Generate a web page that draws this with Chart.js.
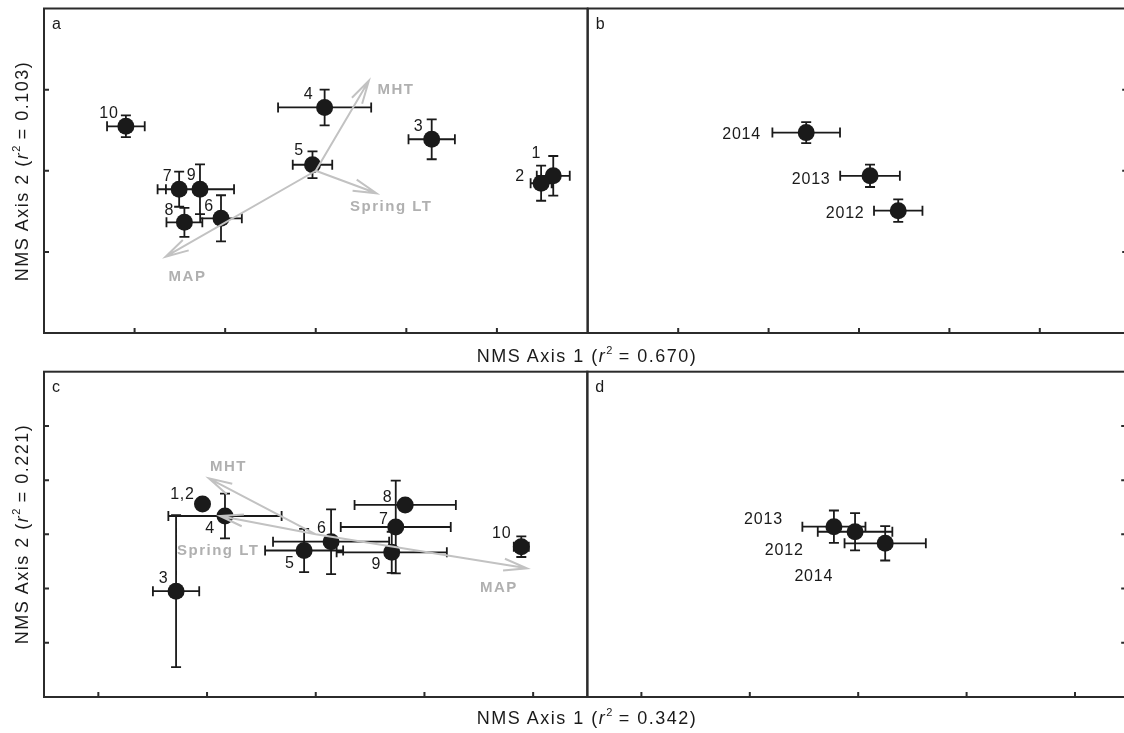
<!DOCTYPE html>
<html>
<head>
<meta charset="utf-8">
<script src="https://cdn.jsdelivr.net/npm/chart.js@4.4.0/dist/chart.umd.min.js"></script>
<style>
    html, body { margin: 0; padding: 0; background: #fff; overflow: hidden; }
    #wrap { position: relative; width: 1124px; height: 733px; overflow: hidden; }
    #wrap canvas { position: absolute; left: 0; top: 0; }
    .axis-title {
        position: absolute;
        font-family: 'Liberation Sans', Arial, sans-serif;
        font-size: 18px;
        letter-spacing: 1.5px;
        color: #1a1a1a;
        white-space: nowrap;
        transform: translate(-50%, -50%);
    }
    .axis-title.vertical { transform: translate(-50%, -50%) rotate(-90deg); }
    .axis-title sup { font-size: 11px; vertical-align: 8px; line-height: 0; letter-spacing: 0; }
</style>
</head>
<body>
<div id="wrap">
    <canvas id="panelA" width="1124" height="733"></canvas>
    <canvas id="panelB" width="1124" height="733"></canvas>
    <canvas id="panelC" width="1124" height="733"></canvas>
    <canvas id="panelD" width="1124" height="733"></canvas>
    <div class="axis-title" style="left:587px; top:356px">NMS Axis 1 (<i>r</i><sup>2</sup> = 0.670)</div>
    <div class="axis-title" style="left:587px; top:718px">NMS Axis 1 (<i>r</i><sup>2</sup> = 0.342)</div>
    <div class="axis-title vertical" style="left:22px; top:171px">NMS Axis 2 (<i>r</i><sup>2</sup> = 0.103)</div>
    <div class="axis-title vertical" style="left:22px; top:534px">NMS Axis 2 (<i>r</i><sup>2</sup> = 0.221)</div>
</div>
<script>
// ---- panel a : sites (top ordination) ----
const siteLabelsA = ['1', '2', '3', '4', '5', '6', '7', '8', '9', '10'];
const siteAxis1A = [1.311, 1.244, 0.640, 0.049, -0.018, -0.523, -0.754, -0.725, -0.639, -1.048];
const siteAxis2A = [-0.031, -0.077, 0.194, 0.390, 0.037, -0.293, -0.114, -0.318, -0.114, 0.274];
const siteErr1A = [0.091, 0.058, 0.128, 0.257, 0.109, 0.115, 0.119, 0.099, 0.188, 0.104];
const siteErr2A = [0.122, 0.108, 0.123, 0.110, 0.083, 0.142, 0.108, 0.089, 0.153, 0.067];

// ---- panel b : years (top ordination) ----
const yearLabels = ['2012', '2013', '2014'];
const yearAxis1B = [0.217, 0.061, -0.292];
const yearAxis2B = [-0.246, -0.031, 0.235];
const yearErr1B = [0.134, 0.165, 0.187];
const yearErr2B = [0.069, 0.069, 0.065];

// ---- panel c : sites (bottom ordination) ----
const siteLabelsC = ['1,2', '3', '4', '5', '6', '7', '8', '9', '10'];
const siteAxis1C = [-1.042, -1.285, -0.835, -0.107, 0.141, 0.736, 0.823, 0.699, 1.891];
const siteAxis2C = [0.280, -0.524, 0.169, -0.149, -0.068, 0.068, 0.271, -0.166, -0.114];
const siteErr1C = [0.04, 0.213, 0.521, 0.359, 0.534, 0.506, 0.466, 0.507, 0.069];
const siteErr2C = [0.04, 0.701, 0.206, 0.200, 0.298, 0.427, 0.03, 0.190, 0.095];

// ---- panel d : years (bottom ordination) ----
const yearAxis1D = [-0.029, -0.224, 0.249];
const yearAxis2D = [0.024, 0.071, -0.083];
const yearErr1D = [0.344, 0.291, 0.375];
const yearErr2D = [0.172, 0.149, 0.158];

// ---- environmental vectors ----
const vectorLabels = ['MHT', 'Spring LT', 'MAP'];
const vectorAxis1A = [0.293, 0.335, -0.829];
const vectorAxis2A = [0.555, -0.139, -0.530];
const vectorAxis1C = [-0.983, -0.881, 1.943];
const vectorAxis2C = [0.517, 0.169, -0.313];

// ---- tick values ----
const xTicksTop = [-1, -0.5, 0, 0.5, 1];
const yTicksTop = [-0.5, 0, 0.5];
const xTicksBottom = [-2, -1, 0, 1, 2];
const yTicksBottom = [-1, -0.5, 0, 0.5, 1];

document.addEventListener('DOMContentLoaded', function () {
    const FONT = "'Liberation Sans', Arial, sans-serif";
    const INK = '#1a1a1a';
    const VECTOR_GREY = '#c2c2c2';
    const VECTOR_TEXT = '#b0b0b0';
    const PAGE_W = 1124, PAGE_H = 733;

    // label offsets in px from the marker (text centre / right edge)
    const siteOffsetsA = [[-17, -22], [-21, -7], [-13, -13], [-16, -13], [-13.5, -14], [-12, -12], [-11.5, -13], [-15, -12], [-8.3, -14], [-17, -13]];
    const siteOffsetsC = [[-20, -9], [-12.4, -13], [-15, 13], [-14.3, 13.5], [-9.3, -12.7], [-11.8, -7.7], [-17.5, -7.7], [-15.3, 12.7], [-19.6, -13.4]];
    const yearOffsetsB = [[-33.7, 3.3], [-39.5, 4.3], [-45.2, 2.3]];
    const yearOffsetsD = [[-51.4, 19], [-51, -6.7], [-52, 33.4]];
    const vectorOffsetsA = [[8.7, 9.3], [-26.4, 14], [3, 20.6]];
    const vectorOffsetsC = [[1, -11.6], [-43, 34.7], [-47, 19.4]];

    function toPoints(xs, ys, ex, ey) {
        return xs.map((x, i) => ({ x: x, y: ys[i], ex: ex[i], ey: ey[i] }));
    }

    function drawArrow(ctx, x0, y0, x1, y1) {
        const ang = Math.atan2(y1 - y0, x1 - x0);
        const head = 24, spread = 0.25;
        ctx.moveTo(x0, y0);
        ctx.lineTo(x1, y1);
        ctx.moveTo(x1 - head * Math.cos(ang - spread), y1 - head * Math.sin(ang - spread));
        ctx.lineTo(x1, y1);
        ctx.lineTo(x1 - head * Math.cos(ang + spread), y1 - head * Math.sin(ang + spread));
    }

    function makePlugin(cfg) {
        return {
            id: 'ordination',
            beforeDatasetsDraw(chart) {
                const ctx = chart.ctx;
                const xs = chart.scales.x, ys = chart.scales.y;
                ctx.save();
                ctx.strokeStyle = INK;
                ctx.lineWidth = 1.8;
                ctx.beginPath();
                cfg.points.forEach(p => {
                    const cx = xs.getPixelForValue(p.x), cy = ys.getPixelForValue(p.y);
                    const x0 = xs.getPixelForValue(p.x - p.ex), x1 = xs.getPixelForValue(p.x + p.ex);
                    const y0 = ys.getPixelForValue(p.y - p.ey), y1 = ys.getPixelForValue(p.y + p.ey);
                    ctx.moveTo(x0, cy); ctx.lineTo(x1, cy);
                    ctx.moveTo(x0, cy - 5); ctx.lineTo(x0, cy + 5);
                    ctx.moveTo(x1, cy - 5); ctx.lineTo(x1, cy + 5);
                    ctx.moveTo(cx, y0); ctx.lineTo(cx, y1);
                    ctx.moveTo(cx - 5, y0); ctx.lineTo(cx + 5, y0);
                    ctx.moveTo(cx - 5, y1); ctx.lineTo(cx + 5, y1);
                });
                ctx.stroke();
                ctx.restore();
            },
            afterDatasetsDraw(chart) {
                const ctx = chart.ctx;
                const xs = chart.scales.x, ys = chart.scales.y;
                const area = chart.chartArea;
                ctx.save();

                // biplot vectors
                if (cfg.vectors) {
                    const ox = xs.getPixelForValue(0), oy = ys.getPixelForValue(0);
                    ctx.strokeStyle = VECTOR_GREY;
                    ctx.lineWidth = 2;
                    ctx.beginPath();
                    cfg.vectors.x.forEach((vx, i) => {
                        drawArrow(ctx, ox, oy, xs.getPixelForValue(vx), ys.getPixelForValue(cfg.vectors.y[i]));
                    });
                    ctx.stroke();
                    ctx.fillStyle = VECTOR_TEXT;
                    ctx.font = 'bold 15px ' + FONT;
                    ctx.letterSpacing = '1.5px';
                    ctx.textAlign = 'left';
                    ctx.textBaseline = 'middle';
                    vectorLabels.forEach((lbl, i) => {
                        const off = cfg.vectors.offsets[i];
                        ctx.fillText(lbl, xs.getPixelForValue(cfg.vectors.x[i]) + off[0], ys.getPixelForValue(cfg.vectors.y[i]) + off[1]);
                    });
                }

                // point labels
                ctx.fillStyle = INK;
                ctx.font = '16px ' + FONT;
                ctx.letterSpacing = '0.8px';
                ctx.textAlign = cfg.labelAlign;
                ctx.textBaseline = 'middle';
                cfg.points.forEach((p, i) => {
                    const off = cfg.labelOffsets[i];
                    ctx.fillText(cfg.labels[i], xs.getPixelForValue(p.x) + off[0], ys.getPixelForValue(p.y) + off[1]);
                });

                // panel letter
                ctx.letterSpacing = '0px';
                ctx.textAlign = 'left';
                ctx.textBaseline = 'alphabetic';
                ctx.fillText(cfg.letter, area.left + 8, area.top + 20);

                // frame (right-hand panels run past the page edge)
                const frameRight = xs.getPixelForValue(cfg.xFrameMax);
                ctx.strokeStyle = '#2b2b2b';
                ctx.lineWidth = 2;
                ctx.strokeRect(area.left, area.top, frameRight - area.left, area.bottom - area.top);

                // inward ticks
                ctx.beginPath();
                cfg.xTicks.forEach(t => {
                    const px = xs.getPixelForValue(t);
                    ctx.moveTo(px, area.bottom);
                    ctx.lineTo(px, area.bottom - 5);
                });
                cfg.yTicks.forEach(t => {
                    const py = ys.getPixelForValue(t);
                    if (cfg.yTickSide === 'left') {
                        ctx.moveTo(area.left, py);
                        ctx.lineTo(area.left + 5, py);
                    } else {
                        ctx.moveTo(frameRight, py);
                        ctx.lineTo(frameRight - 8, py);
                    }
                });
                ctx.stroke();
                ctx.restore();
            }
        };
    }

    function createPanel(canvasId, cfg) {
        const right = Math.min(cfg.frame.right, PAGE_W);
        // visible part of the axis when the panel is cut by the page edge
        const xMaxVisible = cfg.xMin + (cfg.xFrameMax - cfg.xMin) * (right - cfg.frame.left) / (cfg.frame.right - cfg.frame.left);
        return new Chart(document.getElementById(canvasId), {
            type: 'scatter',
            data: {
                datasets: [{
                    data: cfg.points,
                    pointRadius: 8.5,
                    pointHoverRadius: 8.5,
                    backgroundColor: INK,
                    borderWidth: 0
                }]
            },
            options: {
                responsive: false,
                animation: false,
                events: [],
                layout: {
                    autoPadding: false,
                    padding: {
                        left: cfg.frame.left,
                        top: cfg.frame.top,
                        right: PAGE_W - right,
                        bottom: PAGE_H - cfg.frame.bottom
                    }
                },
                scales: {
                    x: { type: 'linear', display: false, min: cfg.xMin, max: xMaxVisible },
                    y: { type: 'linear', display: false, min: cfg.yMin, max: cfg.yMax }
                },
                plugins: {
                    legend: { display: false },
                    tooltip: { enabled: false }
                }
            },
            plugins: [makePlugin(cfg)]
        });
    }

    createPanel('panelA', {
        letter: 'a',
        frame: { left: 44, top: 8.5, right: 587.5, bottom: 333 },
        xMin: -1.5, xFrameMax: 1.5, yMin: -1, yMax: 1,
        points: toPoints(siteAxis1A, siteAxis2A, siteErr1A, siteErr2A),
        labels: siteLabelsA, labelOffsets: siteOffsetsA, labelAlign: 'center',
        vectors: { x: vectorAxis1A, y: vectorAxis2A, offsets: vectorOffsetsA },
        xTicks: xTicksTop, yTicks: yTicksTop, yTickSide: 'left'
    });

    createPanel('panelB', {
        letter: 'b',
        frame: { left: 587.8, top: 8.5, right: 1130.2, bottom: 333 },
        xMin: -1.5, xFrameMax: 1.5, yMin: -1, yMax: 1,
        points: toPoints(yearAxis1B, yearAxis2B, yearErr1B, yearErr2B),
        labels: yearLabels, labelOffsets: yearOffsetsB, labelAlign: 'right',
        xTicks: xTicksTop, yTicks: yTicksTop, yTickSide: 'right'
    });

    createPanel('panelC', {
        letter: 'c',
        frame: { left: 44, top: 371.7, right: 587.5, bottom: 697 },
        xMin: -2.5, xFrameMax: 2.5, yMin: -1.5, yMax: 1.5,
        points: toPoints(siteAxis1C, siteAxis2C, siteErr1C, siteErr2C),
        labels: siteLabelsC, labelOffsets: siteOffsetsC, labelAlign: 'center',
        vectors: { x: vectorAxis1C, y: vectorAxis2C, offsets: vectorOffsetsC },
        xTicks: xTicksBottom, yTicks: yTicksBottom, yTickSide: 'left'
    });

    createPanel('panelD', {
        letter: 'd',
        frame: { left: 587.2, top: 371.7, right: 1129.2, bottom: 697 },
        xMin: -2.5, xFrameMax: 2.5, yMin: -1.5, yMax: 1.5,
        points: toPoints(yearAxis1D, yearAxis2D, yearErr1D, yearErr2D),
        labels: yearLabels, labelOffsets: yearOffsetsD, labelAlign: 'right',
        xTicks: xTicksBottom, yTicks: yTicksBottom, yTickSide: 'right'
    });
});
</script>
</body>
</html>
